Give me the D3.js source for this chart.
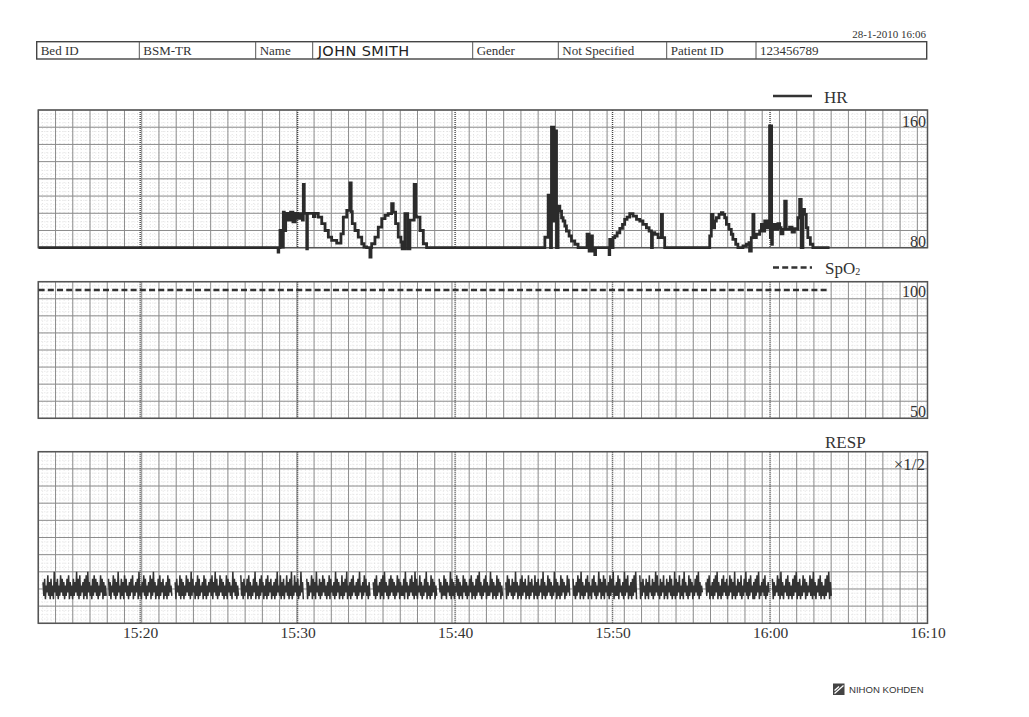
<!DOCTYPE html>
<html>
<head>
<meta charset="utf-8">
<script src="https://cdn.jsdelivr.net/npm/d3@7"></script>
<style>
  body { margin: 0; background: #fff; }
  svg { display: block; }
  text { font-family: "Liberation Serif", "Times New Roman", serif; fill: #333; }
</style>
</head>
<body>
<div class="sheet"></div>
<script>
// ---- data (minutes after 15:00) ----
const startMin = 13.53;
const endMin = 70;

const tickMinutes = [20, 30, 40, 50, 60, 70];
const tickLabels = ['15:20', '15:30', '15:40', '15:50', '16:00', '16:10'];

const headerLabels = ['Bed ID', 'BSM-TR', 'Name', 'JOHN SMITH', 'Gender', 'Not Specified', 'Patient ID', '123456789'];
const printedAt = '28-1-2010 16:06';

// HR trend [minute, bpm]
const hrPoints = [
  [13.55, 80], [28.74, 80], [28.76, 77.5], [28.80, 80], [28.88, 90], [28.95, 80.4], [29.09, 100.7], [29.15, 90],
  [29.24, 100], [29.40, 96], [29.55, 100.7], [29.70, 95], [29.85, 100], [30.00, 97], [30.15, 99.8], [30.30, 96],
  [30.36, 116.8], [30.42, 100], [30.58, 79.4], [30.62, 100], [31.00, 98], [31.10, 100], [31.31, 97.8], [31.53, 94],
  [31.74, 90], [31.95, 86.2], [32.16, 84.3], [32.48, 82.7], [32.75, 88], [32.90, 97.8], [33.12, 101.7], [33.32, 117.6],
  [33.40, 101], [33.47, 94], [33.64, 90], [33.85, 86.2], [34.07, 82.3], [34.21, 80.4], [34.38, 80], [34.59, 74.6],
  [34.66, 80], [34.70, 82.3], [34.91, 86.2], [35.12, 92], [35.34, 96.9], [35.55, 98.8], [35.75, 99.8], [35.97, 105.6],
  [36.07, 100.7], [36.22, 94], [36.39, 86.2], [36.56, 83.3], [36.64, 79.4], [36.81, 99.8], [36.99, 79.4], [37.13, 96],
  [37.40, 116.8], [37.50, 98], [37.56, 97.8], [37.77, 90], [37.98, 82.3], [38.19, 80],
  [45.70, 86.2], [45.84, 86], [45.91, 110.6], [46.01, 95.5], [46.06, 80], [46.12, 150], [46.17, 101], [46.22, 150],
  [46.28, 95.5], [46.35, 147.8], [46.44, 80], [46.54, 104.2], [46.65, 101.3], [46.76, 97.4], [46.86, 95.5], [46.97, 92.6],
  [47.07, 89.7], [47.24, 86.8], [47.39, 83.9], [47.60, 82], [47.81, 80], [48.38, 87.8], [48.51, 78], [48.60, 86.8],
  [48.72, 78], [48.81, 80], [48.87, 76], [48.92, 80], [49.78, 76], [49.82, 84.8], [49.93, 80], [50.03, 85.8],
  [50.14, 86.8], [50.29, 88.7], [50.46, 91.2], [50.63, 93.6], [50.77, 96.5], [50.92, 97.8], [51.09, 99.8], [51.30, 98.4],
  [51.52, 96.5], [51.73, 95.5], [51.93, 93.6], [52.15, 91.6], [52.32, 89.7], [52.47, 80], [52.53, 88.7], [52.68, 87.8],
  [52.89, 85.8], [53.10, 99.4], [53.17, 85.8], [53.31, 80],
  [56.17, 86.8], [56.27, 99.4], [56.38, 91.6], [56.48, 95.5], [56.59, 97.4], [56.76, 99.4], [56.91, 100.3], [57.01, 99.4],
  [57.12, 97.4], [57.23, 93.6], [57.39, 90.7], [57.54, 87.8], [57.64, 84.8], [57.82, 82], [57.96, 80], [58.28, 81],
  [58.50, 82], [58.66, 82.9], [58.70, 78], [58.81, 85.8], [58.91, 99.4], [58.98, 85.8], [59.13, 87.8], [59.34, 89.7],
  [59.45, 93.6], [59.55, 89.7], [59.66, 95.5], [59.80, 91.6], [59.93, 93.6], [59.97, 150.7], [60.02, 85.8], [60.06, 150.7],
  [60.10, 82], [60.15, 90.7], [60.23, 93.6], [60.40, 90.7], [60.50, 94], [60.61, 91.6], [60.70, 88], [60.82, 90.7],
  [60.93, 107.1], [61.03, 90.7], [61.24, 92], [61.40, 89], [61.55, 91], [61.67, 90.7], [61.77, 97.4], [61.88, 108.1],
  [61.98, 80], [62.09, 102.3], [62.19, 99.4], [62.30, 91.6], [62.40, 85.8], [62.56, 82], [62.72, 80], [63.78, 80]
];

// SpO2 trend [minute, %]
const spo2Points = [[13.55, 97], [25, 97], [40, 97], [55, 97], [63.78, 97]];

// RESP bursts: start / end minute and sampled levels (one digit = one sample)
const respStarts = [13.83, 17.99, 22.22, 26.39, 30.58, 34.80, 38.99, 43.22, 47.49, 51.73, 55.93, 60.15];
const respEnds   = [17.84, 22.01, 26.24, 30.36, 34.59, 38.83, 43.01, 47.28, 51.52, 55.70, 59.93, 63.89];
const respSamples = [
  '62715382617251936271528372615273816251726392718253617281936251728372615283716252',
  '72615382716293517261837251627381526371925163827152638172936152718263715261827352',
  '61735281726152837261927351628172536182715263728163927152837261528173625193726152',
  '82617253718261527391625172836152718263715261729352816271538261729152836271529361',
  '71625381726193527162837251628173526192736152816273915261728352617293516283725162',
  '62718253617281936251728372615283716252719361527382619271538261527391625182736152',
  '73615282716352917261538271625183726152738162517283926152738162529371625182736152',
  '61827352716293615271826371528162735182617253719261528372615293716251827361528372',
  '72516283719261527381625173826152937162817352618273915262817352619273815261728391',
  '81627351726183527162938251726381527163827152917263815271936251827361527382916253',
  '62738152617283916251728362715283716291527362815273926172835161728391526372815263',
  '7162538271926153728162517283916271528371625382719261537281625172839162'
];

// ---- layout ----
const W = 1029, H = 717;
const gridStep = 1.0946; // chart paper cell, minutes
const headCols = [36.7, 139.3, 255.7, 312.7, 472.7, 558.3, 666.7, 756, 926.7];

const svg = d3.select('.sheet').append('svg')
  .attr('width', W)
  .attr('height', H);

const x = d3.scaleLinear().domain([startMin, endMin]).range([38.3, 927.5]);

const yHR = d3.scaleLinear().domain([80, 160]).range([247.7, 110]);
const ySpO2 = d3.scaleLinear().domain([50, 100]).range([418.3, 281.7]);
const yResp = d3.scaleLinear().domain([-6, 44]).range([623.3, 451.7]);

// header table
const head = svg.append('g');
head.append('rect')
  .attr('x', headCols[0]).attr('y', 41.7)
  .attr('width', headCols[8] - headCols[0]).attr('height', 17.3)
  .attr('fill', 'none').attr('stroke', '#444').attr('stroke-width', 1.4);
head.selectAll('line').data(headCols.slice(1, 8))
  .enter().append('line')
  .attr('x1', d => d).attr('x2', d => d)
  .attr('y1', 41.7).attr('y2', 59)
  .attr('stroke', '#555').attr('stroke-width', 1);
head.selectAll('text').data(headerLabels)
  .enter().append('text')
  .attr('x', (d, i) => headCols[i] + (i == 3 ? 5 : 4))
  .attr('y', (d, i) => i == 3 ? 56 : 54.5)
  .style('font-size', (d, i) => i == 3 ? '14.5px' : '13px')
  .style('font-family', (d, i) => i == 3 ? '"DejaVu Sans", sans-serif' : null)
  .style('letter-spacing', (d, i) => i == 3 ? '0.4px' : null)
  .style('fill', (d, i) => i == 3 ? '#222' : null)
  .text(d => d);
svg.append('text')
  .attr('x', 926).attr('y', 38)
  .attr('text-anchor', 'end')
  .style('font-size', '11px')
  .text(printedAt);

// chart paper panel
function panel(y, rowStep) {
  const g = svg.append('g');
  const [bottom, top] = y.range();
  const [lo, hi] = y.domain();
  const cols = d3.range(startMin, endMin - 0.05, gridStep);
  const minorCols = d3.range(startMin, endMin, gridStep / 4);
  const rows = d3.range(lo, hi + 0.01, rowStep);
  const minorRows = d3.range(lo, hi, rowStep / 4);

  g.selectAll('.mv').data(minorCols).enter().append('line')
    .attr('x1', d => x(d)).attr('x2', d => x(d))
    .attr('y1', top).attr('y2', bottom)
    .attr('stroke', '#d6d6d6').attr('stroke-width', 0.7)
    .attr('stroke-dasharray', '1,2');
  g.selectAll('.mh').data(minorRows).enter().append('line')
    .attr('x1', x.range()[0]).attr('x2', x.range()[1])
    .attr('y1', d => y(d)).attr('y2', d => y(d))
    .attr('stroke', '#d6d6d6').attr('stroke-width', 0.7)
    .attr('stroke-dasharray', '1,2');

  g.selectAll('.v').data(cols).enter().append('line')
    .attr('x1', d => x(d)).attr('x2', d => x(d))
    .attr('y1', top).attr('y2', bottom)
    .attr('stroke', '#8c8c8c').attr('stroke-width', 1);
  g.selectAll('.h').data(rows).enter().append('line')
    .attr('x1', x.range()[0]).attr('x2', x.range()[1])
    .attr('y1', d => y(d)).attr('y2', d => y(d))
    .attr('stroke', '#8c8c8c').attr('stroke-width', 1);

  // 10 minute marks
  g.selectAll('.t').data(tickMinutes.slice(0, 5)).enter().append('line')
    .attr('x1', d => x(d)).attr('x2', d => x(d))
    .attr('y1', top).attr('y2', bottom)
    .attr('stroke', '#444').attr('stroke-width', 1.4)
    .attr('stroke-dasharray', '1,1');

  g.append('rect')
    .attr('x', x.range()[0]).attr('y', top)
    .attr('width', x.range()[1] - x.range()[0]).attr('height', bottom - top)
    .attr('fill', 'none').attr('stroke', '#555').attr('stroke-width', 1.5);
  return g;
}

panel(yHR, 10);
panel(ySpO2, 6.25);
panel(yResp, 5);

// HR
const hrLine = d3.line()
  .x(d => x(d[0]))
  .y(d => yHR(d[1]))
  .curve(d3.curveStepAfter);
svg.append('path')
  .datum(hrPoints)
  .attr('d', hrLine)
  .attr('fill', 'none')
  .attr('stroke', '#2b2b2b')
  .attr('stroke-width', 2.8);

// SpO2
svg.append('path')
  .datum(spo2Points)
  .attr('d', d3.line().x(d => x(d[0])).y(d => ySpO2(d[1])))
  .attr('fill', 'none')
  .attr('stroke', '#333')
  .attr('stroke-width', 2.5)
  .attr('stroke-dasharray', '6,3.2');

// RESP
respSamples.forEach((s, i) => {
  const vals = s.split('').map(Number);
  const t = d3.scaleLinear().domain([0, vals.length - 1]).range([respStarts[i], respEnds[i]]);
  svg.append('path')
    .datum(vals)
    .attr('d', d3.line().x((d, j) => x(t(j))).y(d => yResp(d)))
    .attr('fill', 'none')
    .attr('stroke', '#333')
    .attr('stroke-width', 1.5);
});

// scale labels
const lab = (tx, ty, txt, size, anchor) => svg.append('text')
  .attr('x', tx).attr('y', ty)
  .attr('text-anchor', anchor || 'start')
  .style('font-size', size + 'px')
  .text(txt);

lab(926, yHR(160) + 16.5, '160', 16, 'end');
lab(926, yHR(80) - 1, '80', 16, 'end');
lab(926, ySpO2(100) + 15.6, '100', 16, 'end');
lab(926, ySpO2(50) - 1.5, '50', 16, 'end');
lab(925, 469.5, '\u00d71/2', 17, 'end');
lab(825, 448, 'RESP', 17);

// legends
svg.append('line')
  .attr('x1', 773).attr('x2', 812).attr('y1', 96).attr('y2', 96)
  .attr('stroke', '#333').attr('stroke-width', 2.5);
lab(824, 103, 'HR', 17);
svg.append('line')
  .attr('x1', 773).attr('x2', 812).attr('y1', 267.5).attr('y2', 267.5)
  .attr('stroke', '#333').attr('stroke-width', 2.5)
  .attr('stroke-dasharray', '6,3.2');
const sp = lab(825, 274, 'SpO', 17);
sp.append('tspan').attr('dy', 1).style('font-size', '10px').text('2');

// time axis
const axis = svg.append('g')
  .attr('transform', 'translate(0,623.3)')
  .call(d3.axisBottom(x)
    .tickValues(tickMinutes)
    .tickFormat((d, i) => tickLabels[i])
    .tickSize(0)
    .tickPadding(4));
axis.select('.domain').remove();
axis.selectAll('text')
  .style('font-family', '"Liberation Serif", serif')
  .style('font-size', '15.5px')
  .attr('fill', '#333');

// maker mark
const logo = svg.append('g');
logo.append('rect')
  .attr('x', 833).attr('y', 683.5).attr('width', 11.5).attr('height', 11.5)
  .attr('fill', '#444');
logo.append('path')
  .attr('d', 'M834.5,693.5 L843.5,685.5 M834.5,690.5 L839,686.5')
  .attr('stroke', '#fff').attr('stroke-width', 1.3).attr('fill', 'none');
logo.append('text')
  .attr('x', 849).attr('y', 693.3)
  .style('font-family', '"Liberation Sans", Arial, sans-serif')
  .style('font-size', '9.6px')
  .attr('fill', '#444')
  .text('NIHON KOHDEN');
</script>
</body>
</html>
